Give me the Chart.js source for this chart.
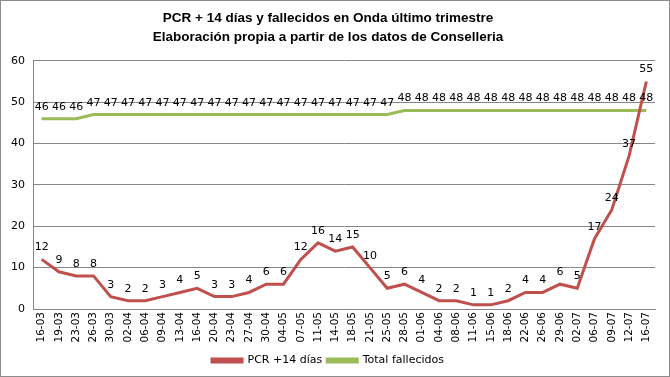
<!DOCTYPE html>
<html lang="es">
<head>
<meta charset="utf-8" />
<title>PCR + 14 días y fallecidos en Onda</title>
<style>
*{margin:0;padding:0;box-sizing:border-box}
body{background:#fff;width:670px;height:377px;overflow:hidden}
.wrap{position:relative;width:670px;height:377px;border:1px solid #8c8c8c}
canvas{display:block}
</style>
</head>
<body>
<div class="wrap"><canvas id="chart" width="668" height="375"></canvas></div>

<script src="https://cdn.jsdelivr.net/npm/chart.js@4.4.1"></script>
<script>
/* ─── data ─── */
const fechas = ['16-03','19-03','23-03','26-03','30-03','02-04','06-04','09-04','13-04','16-04',
                '20-04','23-04','27-04','30-04','04-05','07-05','11-05','14-05','18-05','21-05',
                '25-05','28-05','01-06','04-06','08-06','11-06','15-06','18-06','22-06','26-06',
                '29-06','02-07','06-07','09-07','12-07','16-07'];

const pcr14 = [12,9,8,8,3,2,2,3,4,5,3,3,4,6,6,12,16,14,15,10,5,6,4,2,2,1,1,2,4,4,6,5,17,24,37,55];

const fallecidos = [46,46,46,47,47,47,47,47,47,47,47,47,47,47,47,47,47,47,47,47,47,
                    48,48,48,48,48,48,48,48,48,48,48,48,48,48,48];

const yTicks = [0,10,20,30,40,50,60];

const RED = '#c0504d', GREEN = '#9bbb59';
const FONT = 'DejaVu Sans, Verdana, sans-serif';

/* value labels above each point */
const valueLabels = {
    id:'valueLabels',
    afterDatasetsDraw(chart){
        const ctx = chart.ctx;
        ctx.save();
        ctx.font = '11px ' + FONT;
        ctx.fillStyle = '#000';
        ctx.textAlign = 'center';
        ctx.textBaseline = 'alphabetic';
        chart.data.datasets.forEach((ds,i)=>{
            chart.getDatasetMeta(i).data.forEach((pt,j)=>{
                ctx.fillText(ds.data[j], pt.x, pt.y - 9);
            });
        });
        ctx.restore();
    }
};

new Chart(document.getElementById('chart'),{
    type:'line',
    data:{
        labels:fechas,
        datasets:[
            {label:'PCR +14 días', data:pcr14, borderColor:RED, backgroundColor:RED,
             borderWidth:3, pointRadius:0, tension:0},
            {label:'Total fallecidos', data:fallecidos, borderColor:GREEN, backgroundColor:GREEN,
             borderWidth:3, pointRadius:0, tension:0}
        ]
    },
    options:{
        responsive:false,
        animation:false,
        layout:{padding:{left:0,right:14,top:0,bottom:0}},
        scales:{
            x:{
                offset:true,
                afterFit:s=>{ s.height = 41; },
                grid:{display:false, drawTicks:false},
                border:{color:'#868686'},
                ticks:{color:'#000', font:{family:FONT,size:10.5}, minRotation:90, maxRotation:90,
                       autoSkip:false, padding:3}
            },
            y:{
                min:0, max:60,
                afterBuildTicks:s=>{ s.ticks = yTicks.map(v=>({value:v})); },
                afterFit:s=>{ s.width = 32; },
                grid:{color:'#868686', drawTicks:false},
                border:{color:'#868686'},
                ticks:{color:'#000', font:{family:FONT,size:11}, padding:8}
            }
        },
        plugins:{
            title:{
                display:true,
                text:['PCR + 14 días y fallecidos en Onda último trimestre',
                      'Elaboración propia a partir de los datos de Conselleria'],
                color:'#000',
                font:{family:'Liberation Sans, Arial, sans-serif', size:13.5, weight:'bold', lineHeight:1.4},
                padding:{top:8,bottom:14}
            },
            legend:{
                position:'bottom',
                labels:{color:'#000', font:{family:FONT,size:11}, boxWidth:30, boxHeight:3, padding:5}
            },
            tooltip:{enabled:false}
        }
    },
    plugins:[valueLabels]
});
</script>
</body>
</html>
